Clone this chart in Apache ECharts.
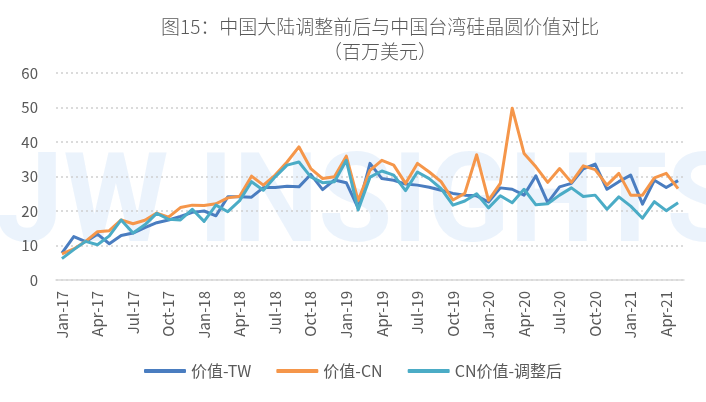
<!DOCTYPE html>
<html lang="zh">
<head>
    <meta charset="UTF-8">
    <title>硅晶圆价值对比</title>
    <style type="text/css">
        body {
            margin: 0;
            background: #fff;
        }

        #chart {
            width: 706px;
            height: 402px;
        }
    </style>
    <script type="text/javascript" src="https://cdn.jsdelivr.net/npm/echarts@6/dist/echarts.min.js"></script>
</head>
<body>
    <div id="chart"></div>
</body>
</html>
<script type="text/javascript">
    var months = ['Jan-17','Feb-17','Mar-17','Apr-17','May-17','Jun-17','Jul-17','Aug-17','Sep-17','Oct-17','Nov-17','Dec-17',
        'Jan-18','Feb-18','Mar-18','Apr-18','May-18','Jun-18','Jul-18','Aug-18','Sep-18','Oct-18','Nov-18','Dec-18',
        'Jan-19','Feb-19','Mar-19','Apr-19','May-19','Jun-19','Jul-19','Aug-19','Sep-19','Oct-19','Nov-19','Dec-19',
        'Jan-20','Feb-20','Mar-20','Apr-20','May-20','Jun-20','Jul-20','Aug-20','Sep-20','Oct-20','Nov-20','Dec-20',
        'Jan-21','Feb-21','Mar-21','Apr-21','May-21'];

    var valueTW = [7.8,12.6,11.1,13.3,10.5,12.9,13.6,15.2,16.6,17.4,18.4,19.6,
        20.0,18.6,24.1,24.1,24.0,26.8,26.8,27.2,27.0,30.6,26.2,29.0,
        28.2,20.8,33.8,29.4,28.9,27.8,27.5,26.9,26.0,25.1,24.6,24.4,
        22.6,26.7,26.3,24.6,30.2,22.4,27.0,28.0,32.2,33.6,26.3,28.5,
        30.4,22.0,28.9,26.8,28.8];

    var valueCN = [7.6,9.0,11.2,14.0,14.3,17.4,16.3,17.3,19.4,18.2,21.0,21.7,
        21.6,22.1,23.8,24.3,30.1,27.5,30.4,34.2,38.6,32.3,29.4,29.9,
        35.9,23.0,31.8,34.7,33.3,28.0,33.8,31.3,28.5,23.2,25.1,36.3,
        23.1,28.0,49.8,36.7,32.8,28.3,32.3,28.3,33.1,32.0,27.5,30.9,
        24.6,24.6,29.6,30.9,26.5];

    var valueCNAdj = [6.2,8.8,11.2,10.2,12.8,17.4,13.6,16.0,19.3,17.6,17.4,20.5,
        17.0,21.7,19.8,23.0,28.5,26.0,29.9,33.3,34.2,29.9,28.2,28.5,
        34.7,20.3,29.8,31.6,30.4,25.9,31.3,29.4,26.5,21.7,22.9,25.0,
        20.9,24.4,22.4,26.3,21.8,22.1,24.6,26.7,24.2,24.6,20.5,24.1,
        21.4,17.9,22.7,20.1,22.4];

    var seriesNames = ['价值-TW', '价值-CN', 'CN价值-调整后'];
    var seriesColors = ['#4a7dc0', '#f5964a', '#4bacc6'];

    var fontCN = 'Noto Sans CJK SC';
    var textGray = '#595959';

    var chart = echarts.init(document.getElementById('chart'), null, {renderer: 'canvas'});

    var titleStyle = {
        fontFamily: fontCN,
        fontSize: 19,
        fontWeight: 300,
        color: textGray
    };

    var option = {
        backgroundColor: '#fff',
        animation: false,
        title: [{
            text: '图15：中国大陆调整前后与中国台湾硅晶圆价值对比',
            left: 156,
            top: 12,
            textStyle: titleStyle
        }, {
            text: '（百万美元）',
            left: 318,
            top: 37,
            textStyle: titleStyle
        }],
        graphic: [{
            type: 'text',
            left: -4,
            top: 148,
            z: -10,
            silent: true,
            scaleX: 0.97,
            style: {
                text: 'JW INSIGHTS',
                fontFamily: 'Roboto',
                fontWeight: 'bold',
                fontSize: 124,
                fill: 'rgba(206,225,248,0.4)'
            }
        }],
        legend: {
            bottom: 18,
            left: 'center',
            icon: 'roundRect',
            itemWidth: 42,
            itemHeight: 4,
            itemGap: 25,
            textStyle: {
                fontFamily: fontCN,
                fontSize: 16,
                color: textGray,
                padding: [0, 0, 0, 0]
            },
            data: seriesNames
        },
        grid: {
            top: 73,
            left: 56,
            right: 22,
            bottom: 122
        },
        xAxis: {
            type: 'category',
            data: months,
            boundaryGap: true,
            axisLine: {
                lineStyle: {
                    color: '#d9d9d9',
                    width: 1.5
                }
            },
            axisTick: {
                show: false
            },
            axisLabel: {
                interval: 2,
                rotate: 90,
                margin: 11,
                fontFamily: fontCN,
                fontSize: 15,
                color: textGray
            }
        },
        yAxis: {
            type: 'value',
            min: 0,
            max: 60,
            interval: 10,
            axisLine: {
                show: false
            },
            axisTick: {
                show: false
            },
            axisLabel: {
                margin: 18,
                fontFamily: fontCN,
                fontSize: 15,
                color: textGray
            },
            splitLine: {
                lineStyle: {
                    color: '#d0d0d0',
                    type: [2, 3],
                    width: 1.5
                }
            }
        },
        series: [{
            name: seriesNames[0],
            type: 'line',
            data: valueTW
        }, {
            name: seriesNames[1],
            type: 'line',
            data: valueCN
        }, {
            name: seriesNames[2],
            type: 'line',
            data: valueCNAdj
        }]
    };

    for (var i = 0; i < option.series.length; i++) {
        option.series[i].symbol = 'none';
        option.series[i].color = seriesColors[i];
        option.series[i].lineStyle = {
            width: 3,
            color: seriesColors[i],
            join: 'round'
        };
    }

    chart.setOption(option);
</script>
